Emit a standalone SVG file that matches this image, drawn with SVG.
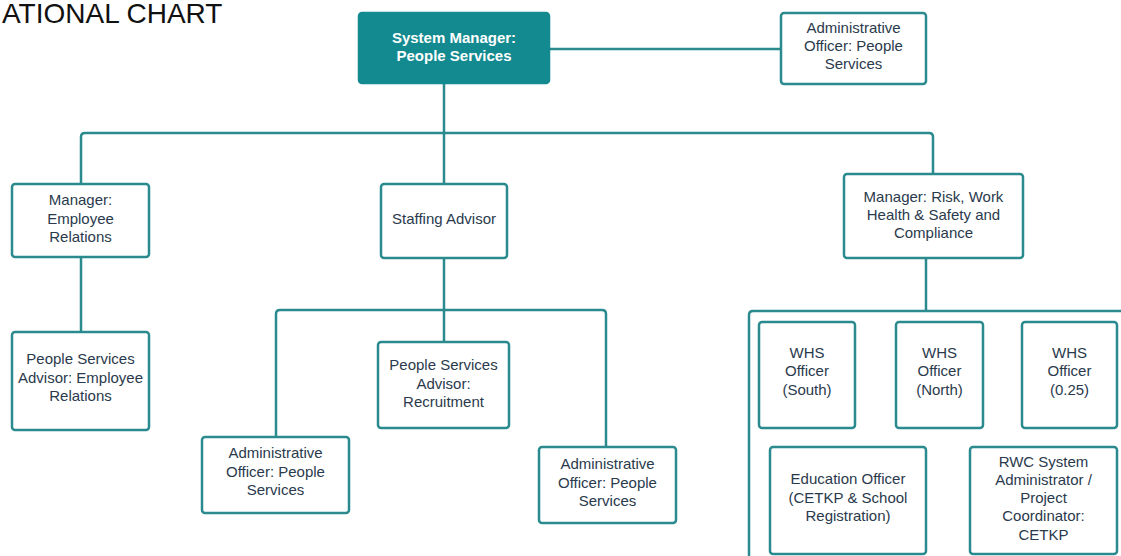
<svg xmlns="http://www.w3.org/2000/svg" width="1121" height="556" viewBox="0 0 1121 556">
  <style>
    .box { fill: #ffffff; stroke: #2a8a8e; stroke-width: 2.5; }
    .head { fill: #138a8f; stroke: #138a8f; stroke-width: 2.5; }
    .lbl { font-family: "Liberation Sans", Arial, sans-serif; font-size: 15px; fill: #2a3a4c; text-anchor: middle; }
    .hlbl { font-family: "Liberation Sans", Arial, sans-serif; font-size: 15px; font-weight: bold; fill: #ffffff; text-anchor: middle; }
    .wire { fill: none; stroke: #2a8a8e; stroke-width: 2.5; stroke-linejoin: round; }
    .title { font-family: "Liberation Sans", Arial, sans-serif; font-size: 28px; fill: #111111; }
  </style>
  <rect width="1121" height="556" fill="#ffffff"/>

  <text class="title" x="2" y="23">ATIONAL CHART</text>

  <!-- reporting lines -->
  <g id="connectors">
    <path class="wire" d="M549,49 H781"/>
    <path class="wire" d="M444,83 V184"/>
    <path class="wire" d="M81,184 V137 Q81,133 85,133 H929 Q933,133 933,137 V174"/>
    <path class="wire" d="M81,257 V332"/>
    <path class="wire" d="M444,258 V342"/>
    <path class="wire" d="M276,437 V314 Q276,310 280,310 H602 Q606,310 606,314 V447"/>
    <path class="wire" d="M926,258 V311"/>
    <path class="wire" d="M1121,311 H753 Q749,311 749,315 V556"/>
  </g>

  <g id="system-manager">
    <rect class="head" x="359" y="13" width="190" height="70" rx="3"/>
    <text class="hlbl" x="454" y="43">System Manager:</text>
    <text class="hlbl" x="454" y="61">People Services</text>
  </g>

  <g id="admin-officer-top">
    <rect class="box" x="781" y="13" width="145" height="71" rx="3"/>
    <text class="lbl" x="853.5" y="33">Administrative</text>
    <text class="lbl" x="853.5" y="51">Officer: People</text>
    <text class="lbl" x="853.5" y="69">Services</text>
  </g>

  <g id="manager-employee-relations">
    <rect class="box" x="12" y="184" width="137" height="73" rx="3"/>
    <text class="lbl" x="80.5" y="205">Manager:</text>
    <text class="lbl" x="80.5" y="224">Employee</text>
    <text class="lbl" x="80.5" y="242">Relations</text>
  </g>

  <g id="staffing-advisor">
    <rect class="box" x="381" y="184" width="126" height="74" rx="3"/>
    <text class="lbl" x="444" y="224">Staffing Advisor</text>
  </g>

  <g id="manager-risk-whs">
    <rect class="box" x="844" y="174" width="179" height="84" rx="3"/>
    <text class="lbl" x="933.5" y="202">Manager: Risk, Work</text>
    <text class="lbl" x="933.5" y="220">Health &amp; Safety and</text>
    <text class="lbl" x="933.5" y="238">Compliance</text>
  </g>

  <g id="advisor-employee-relations">
    <rect class="box" x="12" y="332" width="137" height="98" rx="3"/>
    <text class="lbl" x="80.5" y="364">People Services</text>
    <text class="lbl" x="80.5" y="383">Advisor: Employee</text>
    <text class="lbl" x="80.5" y="401">Relations</text>
  </g>

  <g id="advisor-recruitment">
    <rect class="box" x="378" y="342" width="131" height="86" rx="3"/>
    <text class="lbl" x="443.5" y="370">People Services</text>
    <text class="lbl" x="443.5" y="389">Advisor:</text>
    <text class="lbl" x="443.5" y="407">Recruitment</text>
  </g>

  <g id="admin-officer-left">
    <rect class="box" x="202" y="437" width="147" height="76" rx="3"/>
    <text class="lbl" x="275.5" y="458">Administrative</text>
    <text class="lbl" x="275.5" y="477">Officer: People</text>
    <text class="lbl" x="275.5" y="495">Services</text>
  </g>

  <g id="admin-officer-right">
    <rect class="box" x="539" y="447" width="137" height="76" rx="3"/>
    <text class="lbl" x="607.5" y="469">Administrative</text>
    <text class="lbl" x="607.5" y="488">Officer: People</text>
    <text class="lbl" x="607.5" y="506">Services</text>
  </g>

  <g id="whs-south">
    <rect class="box" x="759" y="322" width="96" height="106" rx="3"/>
    <text class="lbl" x="807" y="358">WHS</text>
    <text class="lbl" x="807" y="376">Officer</text>
    <text class="lbl" x="807" y="395">(South)</text>
  </g>

  <g id="whs-north">
    <rect class="box" x="896" y="322" width="87" height="106" rx="3"/>
    <text class="lbl" x="939.5" y="358">WHS</text>
    <text class="lbl" x="939.5" y="376">Officer</text>
    <text class="lbl" x="939.5" y="395">(North)</text>
  </g>

  <g id="whs-part-time">
    <rect class="box" x="1022" y="322" width="95" height="106" rx="3"/>
    <text class="lbl" x="1069.5" y="358">WHS</text>
    <text class="lbl" x="1069.5" y="376">Officer</text>
    <text class="lbl" x="1069.5" y="395">(0.25)</text>
  </g>

  <g id="education-officer">
    <rect class="box" x="770" y="447" width="156" height="107" rx="3"/>
    <text class="lbl" x="848" y="484">Education Officer</text>
    <text class="lbl" x="848" y="503">(CETKP &amp; School</text>
    <text class="lbl" x="848" y="521">Registration)</text>
  </g>

  <g id="rwc-admin">
    <rect class="box" x="970" y="447" width="147" height="107" rx="3"/>
    <text class="lbl" x="1043.5" y="467">RWC System</text>
    <text class="lbl" x="1043.5" y="485">Administrator /</text>
    <text class="lbl" x="1043.5" y="503">Project</text>
    <text class="lbl" x="1043.5" y="521">Coordinator:</text>
    <text class="lbl" x="1043.5" y="540">CETKP</text>
  </g>
</svg>
